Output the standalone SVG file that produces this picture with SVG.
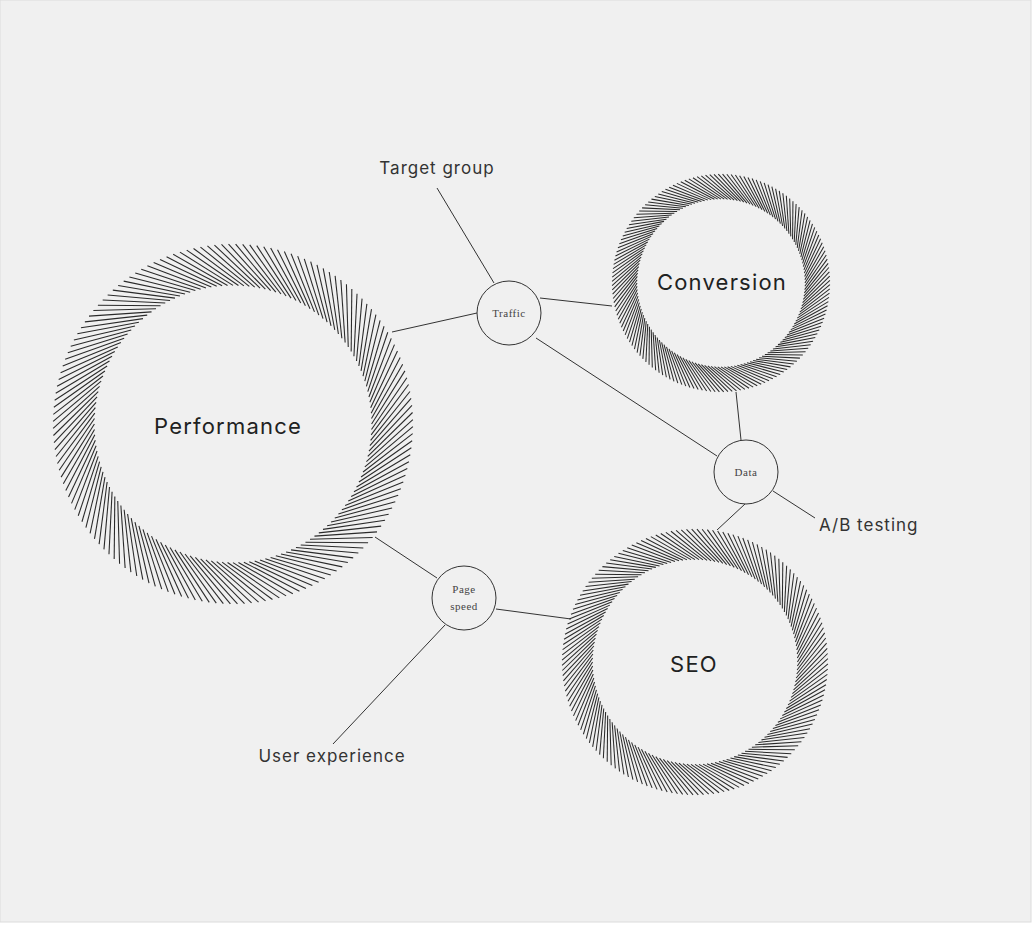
<svg xmlns="http://www.w3.org/2000/svg" xmlns:xlink="http://www.w3.org/1999/xlink" width="1036" height="929" viewBox="0 0 1036 929">
<style>
.big{font-family:Inter,"Liberation Sans",sans-serif;font-size:22px;fill:#1e2222;text-anchor:middle;letter-spacing:1.2px}
.lab{font-family:Inter,"Liberation Sans",sans-serif;font-size:17px;fill:#333;letter-spacing:1px}
.sm{font-family:"Liberation Serif",serif;font-size:11px;fill:#444;text-anchor:middle;letter-spacing:0.5px}
.node{fill:#f0f0f0;stroke:#333;stroke-width:1}
.con line{stroke:#333;stroke-width:1}
</style>
<defs>
<line id="u" x1="77" y1="0" x2="95.5" y2="-29.5" stroke="#2a2a2a"/>
<g id="u10">
<use xlink:href="#u"/><use xlink:href="#u" transform="rotate(2.25)"/><use xlink:href="#u" transform="rotate(4.5)"/><use xlink:href="#u" transform="rotate(6.75)"/><use xlink:href="#u" transform="rotate(9)"/><use xlink:href="#u" transform="rotate(11.25)"/><use xlink:href="#u" transform="rotate(13.5)"/><use xlink:href="#u" transform="rotate(15.75)"/><use xlink:href="#u" transform="rotate(18)"/><use xlink:href="#u" transform="rotate(20.25)"/>
</g>
<g id="ring">
<use xlink:href="#u10"/><use xlink:href="#u10" transform="rotate(22.5)"/><use xlink:href="#u10" transform="rotate(45)"/><use xlink:href="#u10" transform="rotate(67.5)"/><use xlink:href="#u10" transform="rotate(90)"/><use xlink:href="#u10" transform="rotate(112.5)"/><use xlink:href="#u10" transform="rotate(135)"/><use xlink:href="#u10" transform="rotate(157.5)"/><use xlink:href="#u10" transform="rotate(180)"/><use xlink:href="#u10" transform="rotate(202.5)"/><use xlink:href="#u10" transform="rotate(225)"/><use xlink:href="#u10" transform="rotate(247.5)"/><use xlink:href="#u10" transform="rotate(270)"/><use xlink:href="#u10" transform="rotate(292.5)"/><use xlink:href="#u10" transform="rotate(315)"/><use xlink:href="#u10" transform="rotate(337.5)"/>
</g>
</defs>
<rect width="1036" height="929" fill="#ffffff"/>
<rect x="0" y="0" width="1031" height="922" fill="#f0f0f0" stroke="#dcdcdc" stroke-width="1"/>
<g class="con" id="connectors">
<line x1="437" y1="188" x2="494" y2="283"/>
<line x1="477" y1="313" x2="392" y2="332"/>
<line x1="540" y1="298" x2="612" y2="306"/>
<line x1="536" y1="338" x2="717" y2="456"/>
<line x1="736" y1="392" x2="741" y2="440"/>
<line x1="773" y1="491" x2="815" y2="518"/>
<line x1="745" y1="504" x2="717" y2="530"/>
<line x1="375" y1="537" x2="437" y2="578"/>
<line x1="496" y1="609" x2="571" y2="619"/>
<line x1="445" y1="625" x2="333" y2="744"/>
</g>
<g id="performance"><use xlink:href="#ring" transform="translate(233,424) scale(1.8)" stroke-width="0.6"/><text class="big" x="228" y="434">Performance</text></g>
<g id="conversion"><use xlink:href="#ring" transform="translate(721,283) scale(1.09)" stroke-width="0.95"/><text class="big" x="722" y="290">Conversion</text></g>
<g id="seo"><use xlink:href="#ring" transform="translate(695,662) scale(1.33)" stroke-width="0.78"/><text class="big" x="694" y="672">SEO</text></g>
<g id="traffic"><circle class="node" cx="509" cy="313" r="32"/><text class="sm" x="509" y="317">Traffic</text></g>
<g id="data"><circle class="node" cx="746" cy="472" r="32"/><text class="sm" x="746" y="476">Data</text></g>
<g id="pagespeed"><circle class="node" cx="464" cy="598" r="32"/><text class="sm" x="464" y="593">Page</text><text class="sm" x="464" y="610">speed</text></g>
<g id="targetgroup"><text class="lab" x="437" y="174" text-anchor="middle">Target group</text></g>
<g id="abtesting"><text class="lab" x="819" y="531">A/B testing</text></g>
<g id="userexperience"><text class="lab" x="332" y="762" text-anchor="middle">User experience</text></g>
</svg>
